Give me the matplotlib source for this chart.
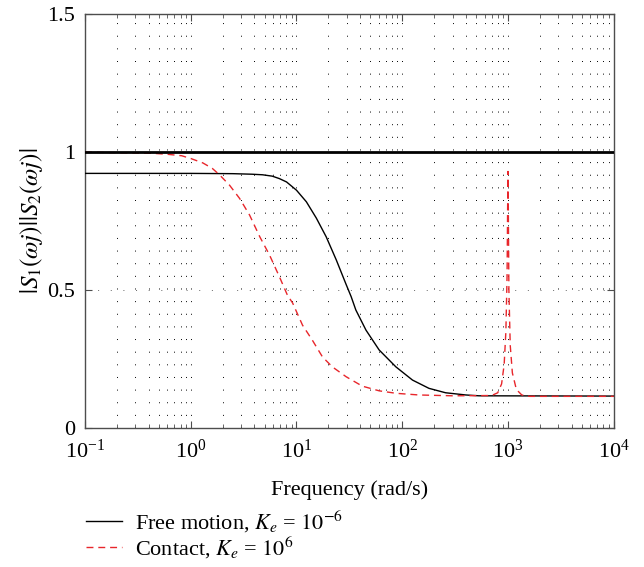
import matplotlib
matplotlib.use("Agg")
import matplotlib.pyplot as plt
import numpy as np

plt.rcParams['font.family'] = ['Liberation Serif', 'DejaVu Serif']
plt.rcParams['mathtext.fontset'] = 'stix'

# free motion, Ke = 1e-6
w_free = [0.1, 1, 2.5, 3.8, 4.77, 5.9, 6.9, 8.05, 10.0, 12.4, 15.4, 19.1, 23.8,
          29.5, 32.9, 36.4, 45.4, 60.5, 87, 125, 179, 257, 400, 531, 1e4]
s_free = [0.923, 0.923, 0.922, 0.920, 0.918, 0.913, 0.904, 0.892, 0.862, 0.820,
          0.761, 0.693, 0.609, 0.520, 0.476, 0.428, 0.355, 0.283, 0.222, 0.174,
          0.144, 0.128, 0.120, 0.117, 0.116]

# contact, Ke = 1e6
w_cont = [0.1, 0.43, 0.61, 0.82, 1.0, 1.3, 1.6, 1.88, 2.33, 2.9, 3.6, 4.5, 5.56,
          6.9, 8.2, 9.2, 11.4, 14.1, 17.6, 21.8, 29.5, 41.9, 60.5, 87.6, 144,
          300, 700, 800, 870, 920, 955, 980, 995, 1000, 1005, 1020, 1050, 1100,
          1200, 1350, 1600, 1e4]
s_cont = [1.0, 0.996, 0.992, 0.987, 0.977, 0.961, 0.941, 0.917, 0.880, 0.832,
          0.772, 0.693, 0.627, 0.548, 0.482, 0.453, 0.373, 0.319, 0.258, 0.222,
          0.186, 0.152, 0.135, 0.126, 0.120, 0.117, 0.118, 0.128, 0.16, 0.23,
          0.35, 0.55, 0.85, 0.93, 0.85, 0.5, 0.3, 0.2, 0.14, 0.12, 0.115, 0.115]

fig = plt.figure(figsize=(6.44, 5.67), dpi=100)
ax = fig.add_axes([0.132, 0.245, 0.821, 0.730])

l1, = ax.plot(w_free, s_free, color='k', lw=1.0, zorder=3)
l2, = ax.plot(w_cont, s_cont, color='#e8262b', lw=1.0, ls=(0, (5, 3.5)), zorder=4)
ax.axhline(1.0, color='k', lw=2.0, zorder=5)

ax.set_xscale('log')
ax.set_xlim(0.1, 1e4)
ax.set_ylim(0, 1.5)
ax.set_yticks([0, 0.5, 1, 1.5])
ax.set_yticklabels(['0', '0.5', '1', '1.5'])

ax.grid(True, which='both', axis='x', color='k', lw=0.7, ls=(0, (1, 12)))
ax.grid(True, which='major', axis='y', color='0.4', lw=0.7, ls=(0, (1, 12)))

ax.tick_params(which='both', direction='in', top=True, right=True, labelsize=16,
               color='0.3')
ax.tick_params(which='major', length=5)
ax.tick_params(which='minor', length=3)
ax.tick_params(axis='x', which='major', pad=8)
ax.tick_params(axis='y', which='major', pad=7)
for s in ax.spines.values():
    s.set_color('0.3')
    s.set_linewidth(1.0)

ax.set_xlabel('Frequency (rad/s)', fontsize=16, labelpad=13)
ax.set_ylabel(r'$|S_1(\omega j)||S_2(\omega j)|$', fontsize=18, labelpad=2)

fig.legend([l1, l2],
           [r'Free motion, $K_e$ = $10^{-6}$', r'Contact, $K_e$ = $10^{6}$'],
           loc='upper left', bbox_to_anchor=(0.12, 0.119), frameon=False,
           fontsize=16, handlelength=1.6, handletextpad=0.6, labelspacing=0.0,
           borderaxespad=0)

fig.savefig('out.png', dpi=100)
